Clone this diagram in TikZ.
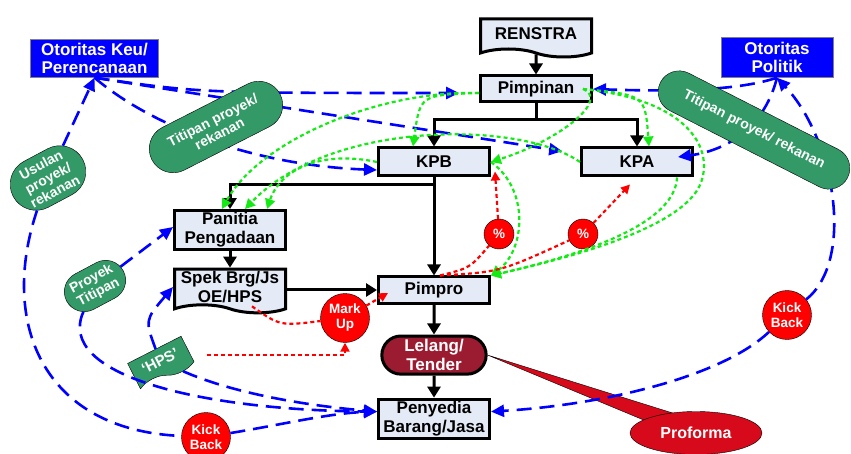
\documentclass[tikz,border=0pt]{standalone}
\usepackage{fontspec}
\setmainfont{Liberation Sans}
\usetikzlibrary{arrows.meta, positioning, shapes.misc, shapes.symbols, shapes.geometric, backgrounds}

\definecolor{boxfill}{RGB}{228,234,246}
\definecolor{pillgreen}{RGB}{51,153,102}
\definecolor{otorblue}{RGB}{0,0,255}
\definecolor{tenderred}{RGB}{155,27,48}
\definecolor{proformared}{RGB}{214,10,26}
\definecolor{dotgreen}{RGB}{20,235,20}

\begin{document}
\begin{tikzpicture}[x=1pt, y=-1pt,
  box/.style={draw, line width=3pt, fill=boxfill, minimum width=111pt, minimum height=26pt,
    inner sep=2pt, align=center, font=\bfseries\fontsize{17}{19}\selectfont},
  doc/.style={box, tape, tape bend top=none, tape bend bottom=out and in, tape bend height=8pt},
  tender/.style={rounded rectangle, draw, line width=3pt, fill=tenderred, text=white,
    minimum width=111pt, minimum height=38pt, align=center, font=\bfseries\fontsize{17}{19}\selectfont},
  otoritas/.style={draw=gray, thin, fill=otorblue, text=white, align=center, inner sep=2pt,
    font=\bfseries\fontsize{17}{18}\selectfont},
  pill/.style={rounded rectangle, draw=black, thin, fill=pillgreen, text=white, align=center,
    inner sep=3pt, font=\bfseries\fontsize{14}{15}\selectfont},
  hpsflag/.style={tape, draw=black, thin, fill=pillgreen, text=white, tape bend top=none,
    tape bend bottom=out and in, tape bend height=7pt, minimum width=60pt, minimum height=32pt,
    font=\bfseries\fontsize{15}{17}\selectfont},
  dot/.style={circle, draw=black, thin, fill=red, text=white, align=center, inner sep=0pt,
    font=\bfseries\fontsize{13.5}{15}\selectfont},
  arr/.style={line width=3pt, -{Triangle[length=11pt,width=13pt]}},
  flow/.style={draw=otorblue, line width=2.6pt, dash pattern=on 15pt off 8pt,
    arrows={-{Triangle[length=13pt,width=12pt]}}},
  plain/.style={arrows=-},
  instr/.style={draw=dotgreen, line width=2.2pt, dash pattern=on 4pt off 3pt,
    arrows={-{Triangle[length=10pt,width=10pt]}}},
  cash/.style={draw=red, line width=2.2pt, dash pattern=on 4pt off 3pt,
    arrows={-{Triangle[length=9pt,width=9pt]}}}]
  \useasboundingbox (0,0) rectangle (851,454);

  % Main column
  \node[doc, minimum height=38pt] (renstra) at (536,34) {RENSTRA};
  \node[box] (pimpinan) at (536,89) {Pimpinan};
  \node[box, minimum height=28pt] (kpb) at (434,162) {KPB};
  \node[box, minimum height=28pt] (kpa) [right = 89pt of kpb] {KPA};
  \node[box, minimum height=37pt] (panitia) at (230,230) {Panitia\\Pengadaan};
  \node[doc, minimum height=40pt] (spek) at (230,287) {Spek Brg/Js\\OE/HPS};
  \node[box] (pimpro) at (434,290) {Pimpro};
  \node[tender] (lelang) [below = 30pt of pimpro] {Lelang/\\Tender};
  \node[box, minimum height=38pt] (penyedia) [below = 22pt of lelang] {Penyedia\\Barang/Jasa};
  \node[ellipse, draw=black, thin, fill=proformared, text=white, minimum width=132pt,
    minimum height=43pt, font=\bfseries\fontsize{16}{18}\selectfont] (proforma) at (696,433) {Proforma};

  % Outside parties
  \node[otoritas, minimum width=128pt, minimum height=38pt] (keu) at (94.5,58.5) {Otoritas Keu/\\Perencanaan};
  \node[otoritas, minimum width=112pt, minimum height=40pt] (politik) at (777,57.5) {Otoritas\\Politik};
  \node[pill, rotate=28, minimum height=52pt] (usulan) at (48,178) {Usulan\\proyek/\\rekanan};
  \node[pill, rotate=28, minimum height=40pt] (proyekt) at (95,286) {Proyek\\Titipan};
  \node[hpsflag, rotate=27] (hps) at (160,361) {‘HPS’};

  % Money
  \node[dot, minimum size=30pt] (pct1) at (499,234) {\%};
  \node[dot, minimum size=30pt] (pct2) at (583,234) {\%};
  \node[dot, minimum size=49pt] (markup) at (345,318) {Mark\\Up};
  \node[dot, minimum size=49pt] (kickr) at (787,315) {Kick\\Back};
  \node[dot, minimum size=49pt] (kickl) at (206,437) {Kick\\Back};

  \begin{scope}[on background layer]
    \filldraw[fill=proformared, draw=black, thin] (lelang.east) -- (proforma.166) -- (proforma.140) -- cycle;
  \end{scope}

  % Structure
  \draw[arr] (renstra) -- (pimpinan);
  \draw[arr] (pimpinan.south) -- ++(0,16) -| (kpb.north);
  \draw[arr] (pimpinan.south) -- ++(0,16) -| (kpa.north);
  \draw[arr] (kpb.south) -- (pimpro.north);
  \draw[arr] (kpb.south) -- ++(0,7) -| (panitia.north);
  \draw[arr] (panitia) -- (spek);
  \draw[arr] (spek.east |- pimpro.west) -- (pimpro.west);
  \draw[arr] (pimpro) -- (lelang);
  \draw[arr] (lelang) -- (penyedia);

  % Blue flows
  \draw[flow] (usulan) -- (keu.south);
  \draw[flow] (keu.south) .. controls (150,125) and (250,165) .. ([yshift=-8pt]kpb.west);
  \draw[flow, shorten >=20pt] (keu.south) .. controls (200,93) .. ([yshift=-4pt]pimpinan.west);
  \draw[flow, shorten >=18pt] (keu.south) -- ([yshift=8pt]kpa.west);
  \draw[flow] (politik.south) .. controls (740,90) and (680,92) .. (pimpinan.east);
  \draw[flow] (politik.south) .. controls (765,125) and (730,150) .. ([xshift=-16pt,yshift=5pt]kpa.east);
  \draw[flow] (kickr) .. controls (855,260) and (835,140) .. (politik.south);
  \draw[flow] (kickr) .. controls (720,378) and (600,405) .. ([yshift=7pt]penyedia.east);
  \draw[flow, plain] (usulan) .. controls (0,320) and (40,430) .. (kickl);
  \draw[flow] (kickl) .. controls (280,425) and (330,413) .. ([yshift=7pt]penyedia.west);
  \draw[flow] (proyekt) -- ([yshift=3pt]panitia.west);
  \draw[flow] (proyekt) .. controls (55,375) and (200,410) .. ([yshift=7pt]penyedia.west);
  \draw[flow] (hps) .. controls (145,320) .. (spek.west);
  \draw[flow] (hps) .. controls (230,392) and (300,405) .. ([yshift=7pt]penyedia.west);

  % Green interventions
  \draw[instr] ([yshift=-4pt]pimpinan.west) .. controls (380,90) and (260,140) .. ([xshift=-8pt]panitia.north);
  \draw[instr] ([yshift=-4pt]pimpinan.west) .. controls (420,95) .. ([xshift=-21pt]kpb.north);
  \draw[instr] ([xshift=-10pt]pimpinan.east) .. controls (610,100) and (560,140) .. (kpb.east);
  \draw[instr] ([xshift=-10pt]pimpinan.east) .. controls (645,95) .. ([xshift=12pt]kpa.north);
  \draw[instr] ([xshift=-10pt]pimpinan.east) .. controls (690,100) and (715,150) .. (700,185)
    .. controls (680,230) and (560,260) .. (pimpro.north east);
  \draw[instr] ([xshift=-17pt]kpa.south east) .. controls (675,225) and (580,255) .. (pimpro.north east);
  \draw[instr] (kpb.east) .. controls (530,190) and (525,250) .. (pimpro.north east);
  \draw[instr] (kpa.west) .. controls (520,120) and (330,120) .. ([xshift=15pt]panitia.north);
  \draw[instr] (kpb.west) .. controls (320,150) and (280,170) .. ([xshift=37pt]panitia.north);

  % Red money
  \draw[cash, plain] ([xshift=6pt]pimpro.north) .. controls (470,268) .. (pct1);
  \draw[cash] (pct1) -- ([xshift=4pt,yshift=6pt]kpb.south east);
  \draw[cash, plain] ([xshift=6pt]pimpro.north) .. controls (500,272) .. (pct2);
  \draw[cash] (pct2) -- ([xshift=-7pt,yshift=-7pt]kpa.south);
  \draw[cash, plain] ([xshift=22pt]spek.south) .. controls (280,326) .. (markup);
  \draw[cash] (markup) -- ([xshift=11pt,yshift=-3pt]pimpro.west);
  \coordinate (hpstail) at (207,355);
  \draw[cash] (hpstail) -| (markup.south);

  % Pills lying over the flows
  \node[pill, rotate=27, minimum width=150pt, minimum height=48pt] (titipanl) at (216,127) {Titipan proyek/\\rekanan};
  \node[pill, rotate=-27, minimum width=216pt, minimum height=42pt] (titipanr) at (754,130) {Titipan proyek/ rekanan};
\end{tikzpicture}
\end{document}
